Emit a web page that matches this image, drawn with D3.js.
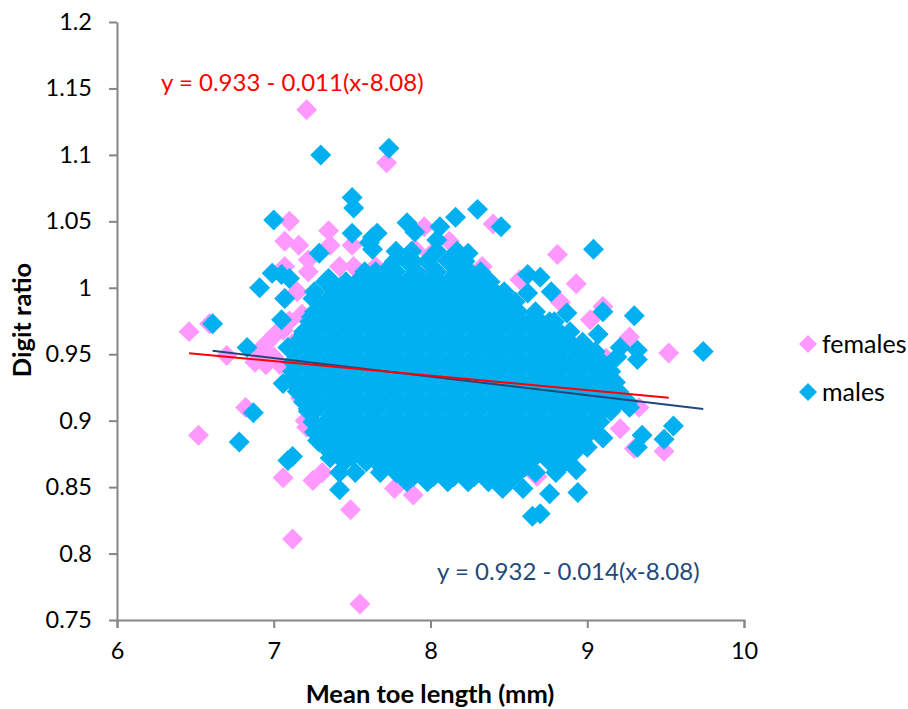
<!DOCTYPE html>
<html>
<head>
<meta charset="utf-8">
<script src="https://cdn.jsdelivr.net/npm/d3@7/dist/d3.min.js"></script>
<style>
  body { margin: 0; background: #fff; }
  text { font-family: Lato, "Open Sans", sans-serif; fill: #000; }
  .axis path, .axis line { stroke: #868686; stroke-width: 2px; }
  .axis text { font-size: 23.5px; }
  .axis-title { font-size: 25.5px; font-weight: bold; }
</style>
</head>
<body>
<div id="chart"></div>
<script>
// Tick labels
const xTicks = [6, 7, 8, 9, 10];
const yTicks = [0.75, 0.8, 0.85, 0.9, 0.95, 1, 1.05, 1.1, 1.15, 1.2];

// Points, [mean toe length, digit ratio]
const females = [
  [7.21,1.134],[7.72,1.094],[7.10,1.05],[7.07,1.035],[7.16,1.032],[7.35,1.043],[7.36,1.032],
  [7.22,1.021],[7.22,1.012],[7.07,1.016],[7.5,1.032],[7.42,1.016],[7.51,1.016],[7.65,1.016],
  [7.15,0.997],[7.07,0.992],[7.96,1.046],[7.9,1.029],[7.98,1.01],[6.46,0.967],[6.59,0.973],
  [6.70,0.949],[6.91,0.953],[6.96,0.959],[7.01,0.965],[6.88,0.944],[7.06,0.968],[6.95,0.942],
  [7.0,0.948],[7.04,0.942],[7.1,0.975],[7.12,0.958],[7.18,0.98],
  [6.52,0.889],[6.82,0.910],[7.06,0.857],[7.12,0.811],[7.25,0.855],[7.31,0.861],[7.49,0.833],
  [7.55,0.762],[7.77,0.849],[7.89,0.844],[7.17,0.917],[7.21,0.895],[7.2,0.9],[7.33,0.915],
  [9.21,0.894],[9.33,0.91],[9.3,0.879],[9.49,0.877],[8.68,0.858],[8.63,0.864],
  [8.81,1.025],[8.4,1.048],[8.93,1.003],[8.57,1.006],[8.83,0.989],[9.1,0.986],[9.02,0.976],
  [9.27,0.963],[9.52,0.951],[8.0,1.025],[8.12,1.035],[8.33,1.016],[8.01,1.011],[9.12,0.947]
];

const males = [
  [7.30,1.1],[7.735,1.105],[7.5,1.068],[7.51,1.06],[7.0,1.051],[7.5,1.041],[7.63,1.038],
  [7.66,1.041],[7.61,1.034],[7.63,1.029],[7.85,1.049],[7.90,1.042],[7.29,1.026],[6.99,1.011],
  [7.05,1.01],[7.10,1.007],[6.91,1.0],[7.07,0.992],[7.35,1.007],[7.25,0.992],[7.05,0.976],
  [6.61,0.973],[6.83,0.955],[7.09,0.955],[7.19,0.965],[7.77,1.02],[7.89,1.02],[7.56,1.008],
  [6.87,0.906],[6.78,0.884],[7.09,0.87],[7.12,0.873],[7.42,0.848],[7.06,0.928],[7.12,0.932],
  [7.22,0.909],[7.28,0.885],[7.36,0.872],[7.42,0.861],[7.52,0.861],[7.84,0.857],
  [9.55,0.896],[9.49,0.886],[9.35,0.889],[9.32,0.88],[8.94,0.846],[8.76,0.845],[8.70,0.83],
  [8.65,0.828],[8.59,0.849],[8.46,0.849],[9.0,0.88],[9.1,0.887],[9.27,0.91],[8.93,0.863],
  [8.8,0.861],
  [8.3,1.059],[8.16,1.053],[8.06,1.046],[8.04,1.036],[8.45,1.046],[9.04,1.029],[8.24,1.026],
  [8.13,1.02],[8.62,1.01],[8.7,1.008],[8.62,0.996],[8.77,0.997],[9.1,0.982],[9.3,0.979],
  [8.87,0.981],[9.07,0.965],[9.21,0.955],[9.32,0.953],[9.32,0.946],[8.32,1.008],[9.74,0.952],
  [9.26,0.914],[9.19,0.948]
];

// The dense middle of the male cloud, [digit ratio, [toe lengths]]
const maleCore = [
  [1.0275,[7.78,7.88,8.04,8.17]],
  [1.02,[7.85,7.98,8.11,8.15,8.22]],
  [1.012,[7.58,7.65,7.71,7.78,7.91,8.04,8.17,8.25,8.32]],
  [1.0045,[7.33,7.46,7.59,7.72,7.85,7.98,8.11,8.24,8.32,8.38]],
  [0.997,[7.26,7.39,7.52,7.65,7.78,7.91,8.04,8.17,8.30,8.41,8.47]],
  [0.9895,[7.33,7.46,7.59,7.72,7.85,7.98,8.11,8.24,8.37,8.50,8.54]],
  [0.982,[7.26,7.39,7.52,7.65,7.78,7.91,8.04,8.17,8.30,8.43,8.56,8.67]],
  [0.9745,[7.23,7.33,7.46,7.59,7.72,7.85,7.98,8.11,8.24,8.37,8.50,8.63,8.76,8.79]],
  [0.967,[7.19,7.26,7.39,7.52,7.65,7.78,7.91,8.04,8.17,8.30,8.43,8.56,8.69,8.82,8.89]],
  [0.959,[7.15,7.20,7.33,7.46,7.59,7.72,7.85,7.98,8.11,8.24,8.37,8.50,8.63,8.76,8.89,8.97]],
  [0.952,[7.13,7.26,7.39,7.52,7.65,7.78,7.91,8.04,8.17,8.30,8.43,8.56,8.69,8.82,8.95,9.05]],
  [0.944,[7.12,7.20,7.33,7.46,7.59,7.72,7.85,7.98,8.11,8.24,8.37,8.50,8.63,8.76,8.89,9.02,9.09]],
  [0.937,[7.12,7.26,7.39,7.52,7.65,7.78,7.91,8.04,8.17,8.30,8.43,8.56,8.69,8.82,8.95,9.08,9.15]],
  [0.929,[7.12,7.20,7.33,7.46,7.59,7.72,7.85,7.98,8.11,8.24,8.37,8.50,8.63,8.76,8.89,9.02,9.15,9.18]],
  [0.922,[7.15,7.26,7.39,7.52,7.65,7.78,7.91,8.04,8.17,8.30,8.43,8.56,8.69,8.82,8.95,9.08,9.20]],
  [0.914,[7.19,7.33,7.46,7.59,7.72,7.85,7.98,8.11,8.24,8.37,8.50,8.63,8.76,8.89,9.02,9.15,9.20]],
  [0.907,[7.22,7.26,7.39,7.52,7.65,7.78,7.91,8.04,8.17,8.30,8.43,8.56,8.69,8.82,8.95,9.08,9.15]],
  [0.899,[7.25,7.33,7.46,7.59,7.72,7.85,7.98,8.11,8.24,8.37,8.50,8.63,8.76,8.89,9.02,9.08]],
  [0.8915,[7.26,7.39,7.52,7.65,7.78,7.91,8.04,8.17,8.30,8.43,8.56,8.69,8.82,8.95,9.02]],
  [0.884,[7.29,7.33,7.46,7.59,7.72,7.85,7.98,8.11,8.24,8.37,8.50,8.63,8.76,8.89,8.97]],
  [0.8765,[7.36,7.39,7.52,7.65,7.78,7.91,8.04,8.17,8.30,8.43,8.56,8.69,8.82,8.92]],
  [0.869,[7.45,7.59,7.72,7.85,7.98,8.11,8.24,8.37,8.50,8.63,8.76,8.86]],
  [0.861,[7.68,7.78,7.91,8.04,8.17,8.30,8.43,8.56,8.67]],
  [0.854,[7.85,7.98,8.11,8.24,8.37,8.50]],
  [1.008,[7.63,7.76,7.89,8.02,8.15,8.28]],
  [1.001,[7.43,7.56,7.69,7.82,7.95,8.08,8.21,8.34]],
  [0.9935,[7.37,7.50,7.63,7.76,7.89,8.02,8.15,8.28,8.41]],
  [0.986,[7.30,7.43,7.56,7.69,7.82,7.95,8.08,8.21,8.34,8.47]],
  [0.978,[7.24,7.37,7.50,7.63,7.76,7.89,8.02,8.15,8.28,8.41,8.54,8.67]],
  [0.971,[7.30,7.43,7.56,7.69,7.82,7.95,8.08,8.21,8.34,8.47,8.60,8.73]],
  [0.963,[7.24,7.37,7.50,7.63,7.76,7.89,8.02,8.15,8.28,8.41,8.54,8.67,8.80]],
  [0.956,[7.17,7.30,7.43,7.56,7.69,7.82,7.95,8.08,8.21,8.34,8.47,8.60,8.73,8.86,8.99]],
  [0.948,[7.24,7.37,7.50,7.63,7.76,7.89,8.02,8.15,8.28,8.41,8.54,8.67,8.80,8.93,9.06]],
  [0.941,[7.17,7.30,7.43,7.56,7.69,7.82,7.95,8.08,8.21,8.34,8.47,8.60,8.73,8.86,8.99,9.12]],
  [0.933,[7.24,7.37,7.50,7.63,7.76,7.89,8.02,8.15,8.28,8.41,8.54,8.67,8.80,8.93,9.06]],
  [0.926,[7.17,7.30,7.43,7.56,7.69,7.82,7.95,8.08,8.21,8.34,8.47,8.60,8.73,8.86,8.99,9.12]],
  [0.918,[7.24,7.37,7.50,7.63,7.76,7.89,8.02,8.15,8.28,8.41,8.54,8.67,8.80,8.93,9.06]],
  [0.911,[7.30,7.43,7.56,7.69,7.82,7.95,8.08,8.21,8.34,8.47,8.60,8.73,8.86,8.99,9.12]],
  [0.903,[7.37,7.50,7.63,7.76,7.89,8.02,8.15,8.28,8.41,8.54,8.67,8.80,8.93,9.06]],
  [0.895,[7.30,7.43,7.56,7.69,7.82,7.95,8.08,8.21,8.34,8.47,8.60,8.73,8.86,8.99]],
  [0.888,[7.37,7.50,7.63,7.76,7.89,8.02,8.15,8.28,8.41,8.54,8.67,8.80,8.93]],
  [0.88,[7.43,7.56,7.69,7.82,7.95,8.08,8.21,8.34,8.47,8.60,8.73,8.86]],
  [0.873,[7.50,7.63,7.76,7.89,8.02,8.15,8.28,8.41,8.54,8.67,8.80]],
  [0.865,[7.69,7.82,7.95,8.08,8.21,8.34,8.47,8.60]],
  [0.858,[7.89,8.02,8.15,8.28,8.41]]
];

// Fitted lines, end points
const femaleFit = [[6.46,0.9508],[9.52,0.9172]];
const maleFit = [[6.61,0.9526],[9.74,0.9088]];

const pink = '#FF99FF';
const blue = '#00B0F0';
const navy = '#1F497D';
const red = '#FF0000';

// Set up dimensions and margins
const margin = { top: 22, left: 117 };
const width = 627;
const height = 598;

const svg = d3.select('#chart')
  .append('svg')
  .attr('width', 908)
  .attr('height', 709);

const chartArea = svg.append('g')
  .attr('transform', `translate(${margin.left},${margin.top})`);

// Scales
const x = d3.scaleLinear().domain([6, 10]).range([0, width]);
const y = d3.scaleLinear().domain([0.75, 1.2]).range([height, 0]);

// Axes
const xAxis = d3.axisBottom(x).tickValues(xTicks).tickFormat(d3.format('d')).tickSize(8).tickSizeOuter(8).tickPadding(14);
const yAxis = d3.axisLeft(y).tickValues(yTicks).tickFormat(d => String(d)).tickSize(8).tickSizeOuter(0).tickPadding(17);

// Markers
const diamond = d3.symbol().type(d3.symbolSquare).size(220);

function drawPoints(points, colour) {
  chartArea.append('g')
    .selectAll('path')
    .data(points)
    .join('path')
    .attr('d', diamond)
    .attr('fill', colour)
    .attr('transform', d => `translate(${x(d[0])},${y(d[1])}) rotate(45)`);
}

drawPoints(females, pink);
drawPoints(maleCore.flatMap(row => row[1].map(v => [v, row[0]])), blue);
drawPoints(males, blue);

chartArea.append('g')
  .attr('class', 'axis x-axis')
  .attr('transform', `translate(0,${height})`)
  .call(xAxis);

chartArea.append('g')
  .attr('class', 'axis y-axis')
  .call(yAxis);

// Fit lines
const line = d3.line().x(d => x(d[0])).y(d => y(d[1]));

chartArea.append('path').datum(maleFit)
  .attr('d', line).attr('fill', 'none').attr('stroke', navy).attr('stroke-width', 2);
chartArea.append('path').datum(femaleFit)
  .attr('d', line).attr('fill', 'none').attr('stroke', red).attr('stroke-width', 2);

// Equations
svg.append('text').attr('x', 161).attr('y', 91)
  .style('font-size', '24px').style('fill', red)
  .text('y = 0.933 - 0.011(x-8.08)');
svg.append('text').attr('x', 437).attr('y', 580)
  .style('font-size', '24px').style('fill', navy)
  .text('y = 0.932 - 0.014(x-8.08)');

// Axis titles
svg.append('text').attr('class', 'axis-title')
  .attr('x', 430).attr('y', 703).attr('text-anchor', 'middle')
  .text('Mean toe length (mm)');
svg.append('text').attr('class', 'axis-title')
  .attr('transform', 'translate(31,320) rotate(-90)').attr('text-anchor', 'middle')
  .text('Digit ratio');

// Legend
const legendItems = [['females', pink, 344], ['males', blue, 392]];
const legendMark = d3.symbol().type(d3.symbolSquare).size(162);
legendItems.forEach(([label, colour, py]) => {
  svg.append('path').attr('d', legendMark).attr('fill', colour)
    .attr('transform', `translate(808,${py}) rotate(45)`);
  svg.append('text').attr('x', 822).attr('y', py + 9)
    .style('font-size', '25px').text(label);
});
</script>
</body>
</html>
